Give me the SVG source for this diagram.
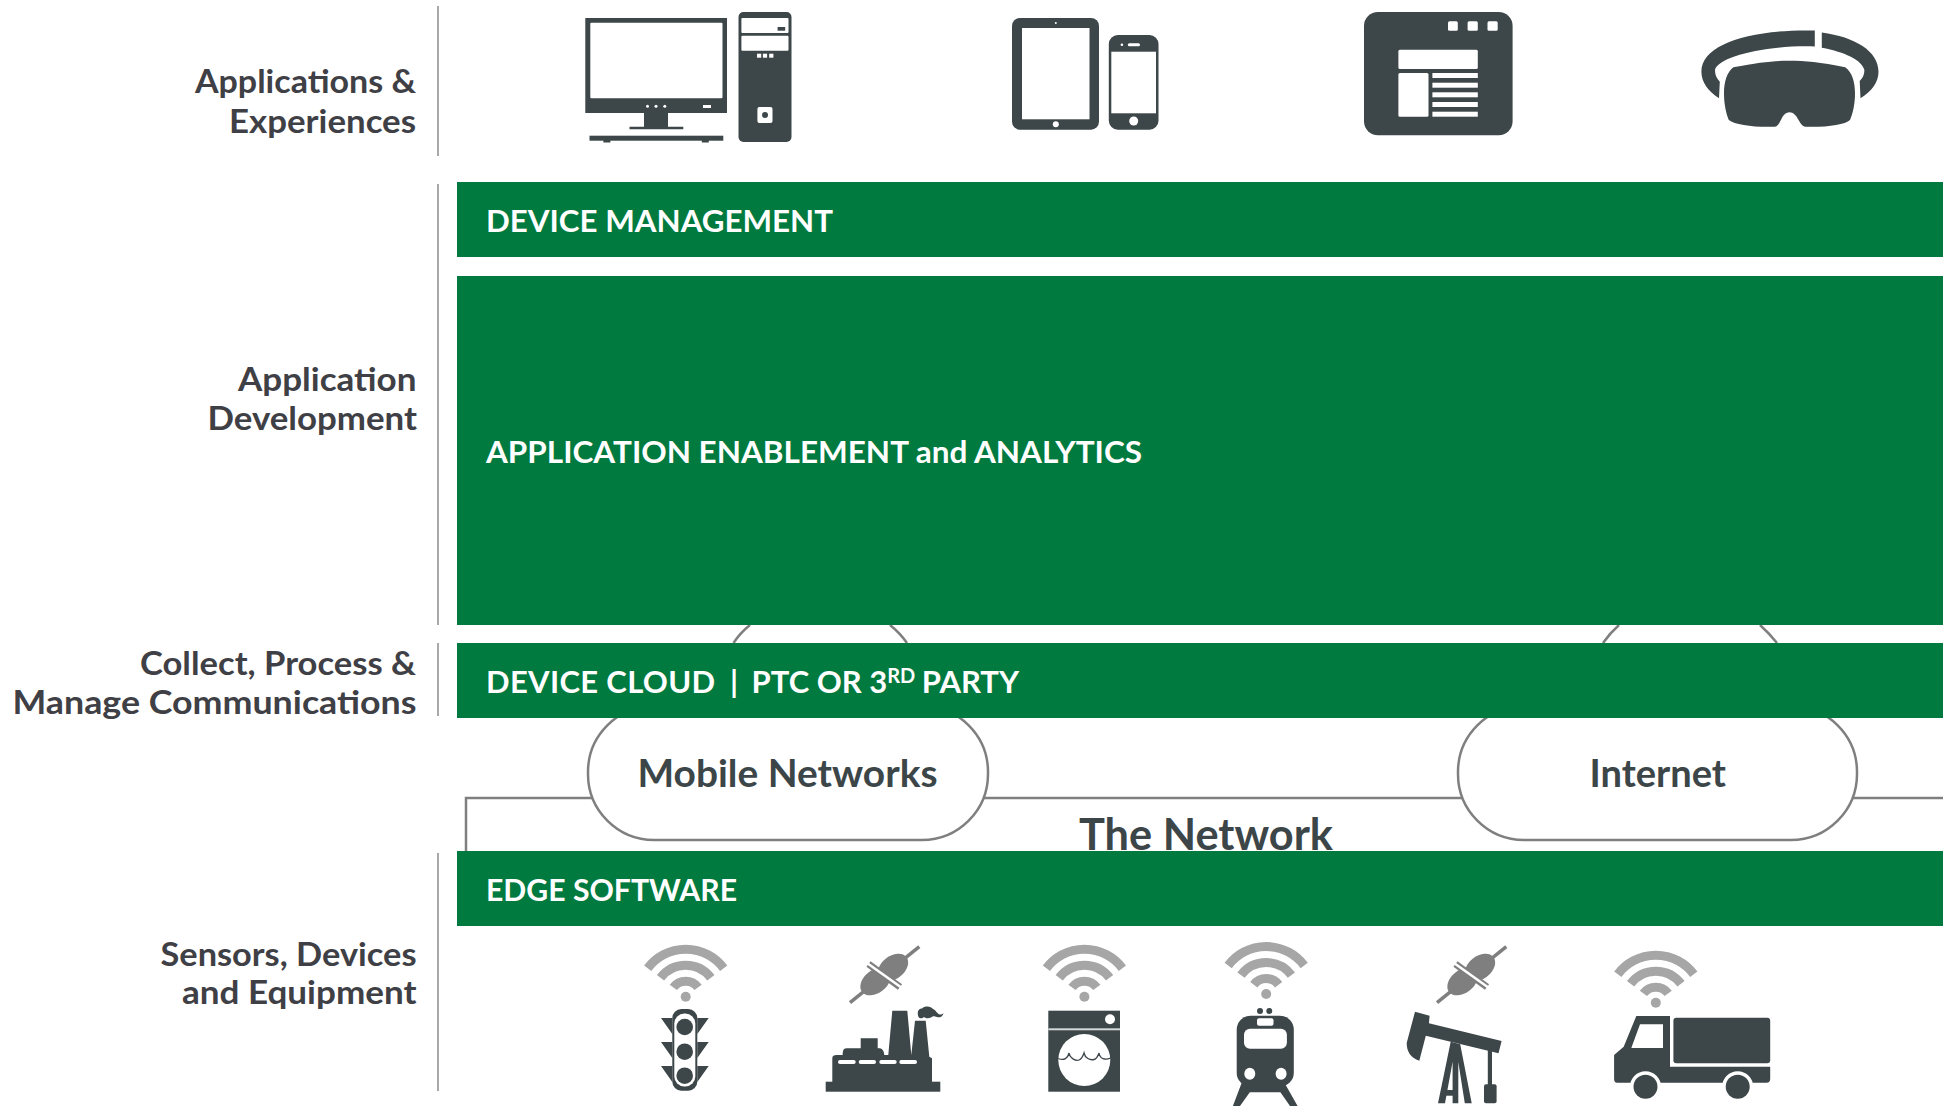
<svg xmlns="http://www.w3.org/2000/svg" xmlns:xlink="http://www.w3.org/1999/xlink" width="1943" height="1106" viewBox="0 0 1943 1106">
<style>
text{font-family:"Lato","Liberation Sans",sans-serif;font-weight:700}
.lab{font-size:33px;fill:#3f4045}
.bar{fill:#017a3f}
.bt{font-size:31px;fill:#fff}
.net{font-size:38px;fill:#3c4648}
.ic{fill:#3d4648}
.w{fill:#fff}
.rule{stroke:#a9a9a9;stroke-width:2;fill:none}
.pill{fill:#fff;stroke:#7f7f7f;stroke-width:2.5}
.cn{fill:none;stroke:#7f7f7f;stroke-width:2.5}
</style>
<defs>
<g id="wifi">
<circle r="5" fill="#a6a6a6"/>
<path d="M-38-28.5A47.5 47.5 0 0 1 38-28.5M-25.2-18.9A31.5 31.5 0 0 1 25.2-18.9M-12.4-9.3A15.5 15.5 0 0 1 12.4-9.3" fill="none" stroke="#a6a6a6" stroke-width="9"/>
</g>
<g id="plug">
<path d="M850 1002.7L919.3 946.7" stroke="#7f7f7f" stroke-width="3.5" fill="none"/>
<ellipse cx="893" cy="967.5" rx="17" ry="11.5" transform="rotate(-38 893 967.5)" fill="#7f7f7f"/>
<ellipse cx="875.5" cy="981.5" rx="17" ry="11.5" transform="rotate(-38 875.5 981.5)" fill="#7f7f7f"/>
<path d="M868.5 964L900 987" stroke="#7f7f7f" stroke-width="7" fill="none"/>
<path d="M867 963L902 988" stroke="#fff" stroke-width="2.5" fill="none"/>
</g>
</defs>
<rect width="1943" height="1106" fill="#fff"/>

<g id="rules">
<path class="rule" d="M438 6V156M438 184V625M438 643V716M438 853V1091"/>
</g>

<g id="connectors">
<path class="cn" d="M466 851V798H1943"/>
<path class="cn" d="M750 625Q740 633 733.500 643M890 625Q900 633 907 643M1619 625Q1610 633 1603 643M1760 625Q1769 633 1777 643"/>
</g>

<g id="label-applications">
<text class="lab" x="195" y="93" textLength="221" lengthAdjust="spacingAndGlyphs">Applications &amp;</text>
<text class="lab" x="229" y="132.500" textLength="187" lengthAdjust="spacingAndGlyphs">Experiences</text>
</g>
<g id="label-development">
<text class="lab" x="238" y="391" textLength="178.500" lengthAdjust="spacingAndGlyphs">Application</text>
<text class="lab" x="207.500" y="429.500" textLength="209.500" lengthAdjust="spacingAndGlyphs">Development</text>
</g>
<g id="label-collect">
<text class="lab" x="140" y="675" textLength="276" lengthAdjust="spacingAndGlyphs">Collect, Process &amp;</text>
<text class="lab" x="12.500" y="713.500" textLength="404" lengthAdjust="spacingAndGlyphs">Manage Communications</text>
</g>
<g id="label-sensors">
<text class="lab" x="160.500" y="965.500" textLength="256" lengthAdjust="spacingAndGlyphs">Sensors, Devices</text>
<text class="lab" x="182" y="1004" textLength="234.500" lengthAdjust="spacingAndGlyphs">and Equipment</text>
</g>

<g id="network-label">
<text class="net" x="1079" y="850" style="font-size:44px" textLength="254" lengthAdjust="spacingAndGlyphs">The Network</text>
</g>
<g id="mobile-networks">
<rect class="pill" x="588" y="706" width="400" height="134" rx="66"/>
<text class="net" x="637.500" y="786.500" textLength="300" lengthAdjust="spacingAndGlyphs">Mobile Networks</text>
</g>
<g id="internet">
<rect class="pill" x="1458" y="706" width="399" height="134" rx="66"/>
<text class="net" x="1589.500" y="786.500" textLength="136.500" lengthAdjust="spacingAndGlyphs">Internet</text>
</g>

<g id="device-management">
<rect class="bar" x="457" y="182" width="1486" height="75"/>
<text class="bt" x="486" y="232" textLength="347" lengthAdjust="spacingAndGlyphs">DEVICE MANAGEMENT</text>
</g>
<g id="application-enablement">
<rect class="bar" x="457" y="276" width="1486" height="349"/>
<text class="bt" x="486" y="463" textLength="656" lengthAdjust="spacingAndGlyphs">APPLICATION ENABLEMENT and ANALYTICS</text>
</g>
<g id="device-cloud">
<rect class="bar" x="457" y="643" width="1486" height="75"/>
<text class="bt" x="486" y="693" xml:space="preserve"><tspan style="letter-spacing:.33px">DEVICE CLOUD</tspan><tspan dx="7"> | </tspan><tspan dx="6">PTC OR 3</tspan><tspan dy="-10" style="font-size:20px">RD</tspan><tspan dy="10" dx="-1"> PARTY</tspan></text>
</g>
<g id="edge-software">
<rect class="bar" x="457" y="851" width="1486" height="75"/>
<text class="bt" x="486" y="901" textLength="251" lengthAdjust="spacingAndGlyphs">EDGE SOFTWARE</text>
</g>

<g id="icon-desktop">
<path class="ic" d="M585.300 18H727V113H668V126.700H683.300V129.300H629.500V126.700H644V113H585.300Z"/>
<rect class="w" x="590.300" y="22.700" width="132.200" height="75.600" rx="1"/>
<circle class="w" cx="647.500" cy="106.300" r="1.500"/><circle class="w" cx="656" cy="106.300" r="1.500"/><circle class="w" cx="664.800" cy="106.300" r="1.500"/>
<rect class="w" x="703" y="105" width="8" height="3"/>
<rect class="ic" x="589.500" y="135.700" width="133.800" height="5"/>
<rect class="ic" x="603.400" y="140" width="7" height="2.500"/><rect class="ic" x="701.800" y="140" width="7" height="2.500"/>
<rect class="ic" x="738.500" y="12" width="53" height="130" rx="5"/>
<rect class="w" x="741.400" y="18" width="47.100" height="15" rx="1"/>
<rect class="ic" x="777.600" y="27" width="7.600" height="3.700"/>
<rect class="w" x="741.400" y="35.700" width="47.100" height="15" rx="1"/>
<rect class="w" x="757" y="53.700" width="4.200" height="4"/><rect class="w" x="762.900" y="53.700" width="4.200" height="4"/><rect class="w" x="769.200" y="53.700" width="4.200" height="4"/>
<rect class="w" x="757.400" y="107" width="15.100" height="16" rx="2"/>
<circle class="ic" cx="765" cy="115" r="3"/>
</g>
<g id="icon-mobile">
<rect class="ic" x="1012" y="18" width="87" height="111.700" rx="8"/>
<rect class="w" x="1022" y="28" width="67.500" height="91.300"/>
<circle class="w" cx="1055.800" cy="23" r="1"/><circle class="w" cx="1055.800" cy="124.300" r="3"/>
<rect class="ic" x="1108.800" y="35" width="49.700" height="94.700" rx="9"/>
<rect class="w" x="1111.300" y="51.700" width="44.700" height="61.600"/>
<rect class="w" x="1127.800" y="43.300" width="12.200" height="3" rx="1.500"/>
<circle class="w" cx="1121.900" cy="44.700" r="1.300"/><circle class="w" cx="1133.700" cy="121" r="4.500"/>
</g>
<g id="icon-browser">
<rect class="ic" x="1364" y="12" width="148.600" height="123.300" rx="14"/>
<g class="w">
<rect x="1448" y="21.300" width="9.800" height="9.400" rx="1.500"/><rect x="1467.600" y="21.300" width="10.200" height="9.400" rx="1.500"/><rect x="1487.500" y="21.300" width="10.200" height="9.400" rx="1.500"/>
<rect x="1398.400" y="49.700" width="79.400" height="19.300" rx="1.500"/>
<rect x="1398.400" y="73" width="30.100" height="43.700" rx="1.500"/>
<rect x="1432.400" y="73" width="45.400" height="5"/><rect x="1432.400" y="82.700" width="45.400" height="5"/><rect x="1432.400" y="92.300" width="45.400" height="5"/><rect x="1432.400" y="102" width="45.400" height="5"/><rect x="1432.400" y="111.700" width="45.400" height="5"/>
</g>
</g>
<g id="icon-vr">
<path class="ic" d="M1814.800 30.500C1750 29 1701.400 44 1701.400 71.700C1701.400 82 1708 91 1719 98.300L1719.800 81.700C1716 78 1715 74 1715 70C1718 57 1765 45 1814.800 46.500Z"/>
<path class="ic" d="M1821.800 32.500C1855 37 1878.500 51 1878.500 71.700C1878.500 82 1872 91 1860.500 98.300L1859.700 81C1863 78 1864.400 74 1864.400 70C1862 60 1845 52 1821.800 47.700Z"/>
<path class="ic" d="M1733.400 67.300C1760 62 1775 60.700 1789.300 60.700C1805 60.700 1820 62 1845.200 67.300C1852 72 1855 82 1855 93C1855 104 1853 113 1850 120C1845 125 1825 127.500 1805 126.700C1799 126 1798 112.300 1789.300 112.300C1781 112.300 1781 126 1774.900 126.700C1755 127.500 1735 125 1728.800 120C1726 113 1724 104 1724 93C1724 82 1727 72 1733.400 67.300Z"/>
</g>

<g id="device-traffic-light">
<use href="#wifi" xlink:href="#wifi" x="685.700" y="996.700"/>
<rect class="ic" x="672.300" y="1009" width="25" height="81.700" rx="9"/>
<path class="ic" d="M661 1018H672.300V1034ZM708.700 1018H697.300V1034ZM661 1042H672.300V1058ZM708.700 1042H697.300V1058ZM661 1066H672.300V1082ZM708.700 1066H697.300V1082Z"/>
<rect class="w" x="674.300" y="1013.500" width="21" height="73" rx="10"/>
<circle class="ic" cx="684.700" cy="1027" r="8.300"/><circle class="ic" cx="684.700" cy="1051.700" r="8.300"/><circle class="ic" cx="684.700" cy="1075.700" r="8.300"/>
</g>
<g id="device-factory">
<use href="#plug" xlink:href="#plug"/>
<rect class="ic" x="825.700" y="1081.700" width="114.600" height="10"/>
<path class="ic" d="M832.300 1082V1058.300Q832.300 1055 836.700 1055H842.700V1052.700Q843 1048.300 846.700 1048.300H860.700V1038.300H877.700V1048.300H880Q884 1049.500 884.300 1055H888.300L892.300 1010.700H907.300L911.300 1055L915 1020.700H925.700L929.300 1056.700L932 1058.300V1082Z"/>
<g class="w"><rect x="838" y="1060" width="17.700" height="4" rx="2"/><rect x="858.700" y="1060" width="17.300" height="4" rx="2"/><rect x="879.300" y="1060" width="17.400" height="4" rx="2"/><rect x="899.300" y="1060" width="17.700" height="4" rx="2"/></g>
<path class="ic" d="M918.500 1017C916.500 1012 918.500 1008.500 922 1008.500C925 1005.500 931 1006 933 1009C936 1010 937 1014 940 1014.500C941.500 1014.500 942.500 1014 943.500 1013C943 1016.500 940 1018 937 1017C934 1016 933 1016 931 1017.500C928 1019 925 1018 924 1017C922 1019 919.500 1018.500 918.500 1017Z"/>
</g>
<g id="device-washer">
<use href="#wifi" xlink:href="#wifi" x="1084.400" y="996.700"/>
<rect class="ic" x="1048.300" y="1010.700" width="71.700" height="81"/>
<rect x="1048.300" y="1028.300" width="71.700" height="2" fill="#d5d8d8"/>
<circle class="w" cx="1110" cy="1019.300" r="5"/>
<circle class="w" cx="1084.300" cy="1060" r="26"/>
<path d="M1058.300 1058.500C1064 1061 1068 1058 1069 1053C1070 1059 1076 1061 1079 1060C1082 1059 1083 1056 1084 1053C1085 1058 1090 1060.500 1094 1059.500C1096 1059 1098 1056 1099 1053C1100 1059 1105 1060.500 1110.700 1058" fill="none" stroke="#3d4648" stroke-width="1.300"/>
</g>
<g id="device-train">
<use href="#wifi" xlink:href="#wifi" x="1266.200" y="994"/>
<circle class="ic" cx="1260" cy="1011" r="3"/><circle class="ic" cx="1269.300" cy="1011" r="3"/>
<rect class="ic" x="1236.700" y="1015.700" width="57.100" height="71" rx="14"/>
<path class="ic" d="M1242 1082L1232.900 1106H1240L1249.800 1092.300H1280.400L1290 1106H1297.600L1284 1082Z"/>
<rect class="w" x="1257" y="1018.300" width="16.500" height="7.400" rx="2"/>
<rect class="w" x="1244" y="1028.700" width="42.900" height="20" rx="6"/>
<ellipse class="w" cx="1249.800" cy="1073.700" rx="5.500" ry="6"/><ellipse class="w" cx="1281.100" cy="1073.700" rx="5.500" ry="6"/>
</g>
<g id="device-oil-pump">
<use href="#plug" xlink:href="#plug" x="587"/>
<path class="ic" d="M1415 1011.700L1429.600 1015.700L1428.900 1023.300L1501.600 1041L1498.500 1053.300L1425.800 1035.700L1419.300 1060.700C1411 1058 1406.700 1052 1406.700 1043Z"/>
<path class="ic" d="M1450.700 1041.700L1438 1103.300H1445L1452.600 1061.700V1103.300H1458.300V1062L1464.800 1103.300H1471.700L1460.200 1044.300Z"/>
<rect class="ic" x="1445" y="1090" width="8" height="5.700"/>
<rect class="ic" x="1487.800" y="1050" width="4.200" height="36"/>
<rect class="ic" x="1484" y="1084.300" width="12.600" height="19" rx="2"/>
</g>
<g id="device-truck">
<use href="#wifi" xlink:href="#wifi" x="1655.800" y="1002.700"/>
<path class="ic" d="M1636.300 1016H1670V1066.700H1770.200V1079Q1770.200 1082.700 1766.400 1082.700H1617Q1614.100 1082.700 1614.100 1079V1055L1623.700 1046.700Z"/>
<path class="w" d="M1640 1024.300H1663V1048H1631.300Z"/>
<rect class="ic" x="1673.400" y="1017.700" width="96.800" height="45.600" rx="3"/>
<circle class="w" cx="1645.500" cy="1086.700" r="15.500"/><circle class="w" cx="1737.700" cy="1086.700" r="15.500"/>
<circle class="ic" cx="1645.500" cy="1086.700" r="12"/><circle class="ic" cx="1737.700" cy="1086.700" r="12"/>
</g>
</svg>
